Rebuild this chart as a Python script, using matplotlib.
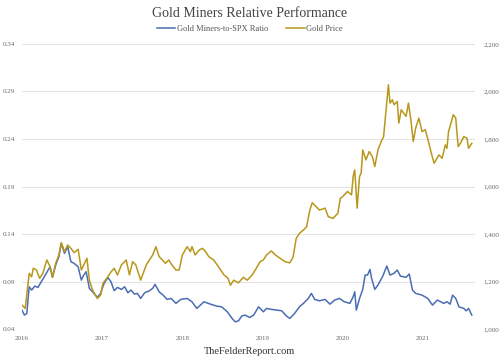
import matplotlib
matplotlib.use("Agg")
import matplotlib.pyplot as plt

# decimal years / values
gold_t = [2016.00, 2016.04, 2016.09, 2016.12, 2016.14, 2016.18, 2016.22, 2016.26, 2016.31, 2016.35,
          2016.38, 2016.42, 2016.46, 2016.49, 2016.53, 2016.57, 2016.61, 2016.65, 2016.70, 2016.74,
          2016.77, 2016.81, 2016.84, 2016.88, 2016.94, 2016.98, 2017.01, 2017.07, 2017.11, 2017.15,
          2017.19, 2017.24, 2017.30, 2017.34, 2017.38, 2017.42, 2017.48, 2017.55, 2017.59, 2017.63,
          2017.67, 2017.71, 2017.75, 2017.79, 2017.83, 2017.87, 2017.92, 2017.96, 2018.00, 2018.06,
          2018.10, 2018.12, 2018.16, 2018.21, 2018.25, 2018.29, 2018.33, 2018.39, 2018.45, 2018.52,
          2018.57, 2018.60, 2018.64, 2018.70, 2018.76, 2018.81, 2018.87, 2018.91, 2018.97, 2019.01,
          2019.05, 2019.11, 2019.16, 2019.22, 2019.28, 2019.34, 2019.38, 2019.42, 2019.46, 2019.51,
          2019.55, 2019.59, 2019.62, 2019.67, 2019.71, 2019.78, 2019.82, 2019.88, 2019.94, 2019.97,
          2020.00, 2020.06, 2020.11, 2020.13, 2020.15, 2020.18, 2020.21, 2020.23, 2020.25, 2020.29,
          2020.33, 2020.37, 2020.40, 2020.44, 2020.48, 2020.51, 2020.57, 2020.59, 2020.62, 2020.64,
          2020.68, 2020.70, 2020.73, 2020.79, 2020.82, 2020.85, 2020.88, 2020.91, 2020.95, 2020.99,
          2021.03, 2021.07, 2021.10, 2021.14, 2021.20, 2021.24, 2021.28, 2021.30, 2021.32, 2021.38,
          2021.41, 2021.44, 2021.47, 2021.51, 2021.55, 2021.57, 2021.61]
gold = [1101, 1087, 1235, 1220, 1256, 1249, 1214, 1235, 1291, 1263,
        1218, 1277, 1312, 1364, 1326, 1354, 1340, 1322, 1336, 1249,
        1270, 1298, 1206, 1164, 1129, 1143, 1193, 1220, 1241, 1256,
        1228, 1270, 1291, 1228, 1284, 1270, 1206, 1270, 1291, 1312,
        1347, 1305, 1291, 1277, 1291, 1270, 1249, 1249, 1312, 1347,
        1326, 1347, 1312, 1333, 1340, 1326, 1305, 1291, 1263, 1228,
        1214, 1185, 1206, 1195, 1218, 1206, 1228, 1249, 1284, 1291,
        1312, 1329, 1312, 1298, 1284, 1279, 1302, 1382, 1403, 1417,
        1431, 1501, 1532, 1515, 1501, 1509, 1473, 1466, 1488, 1550,
        1558, 1579, 1565, 1642, 1670, 1509, 1642, 1656, 1754, 1712,
        1747, 1726, 1684, 1754, 1789, 1810, 2028, 1951, 1965, 1944,
        1958, 1867, 1923, 1895, 1951, 1881, 1789, 1846, 1888, 1831,
        1839, 1789, 1747, 1698, 1733, 1719, 1775, 1761, 1831, 1902,
        1888, 1768, 1783, 1810, 1803, 1761, 1782]

ratio_t = [2016.00, 2016.03, 2016.06, 2016.09, 2016.12, 2016.16, 2016.20, 2016.24, 2016.29, 2016.35,
           2016.38, 2016.42, 2016.46, 2016.49, 2016.53, 2016.57, 2016.61, 2016.65, 2016.70, 2016.74,
           2016.77, 2016.80, 2016.84, 2016.88, 2016.94, 2016.98, 2017.02, 2017.07, 2017.11, 2017.15,
           2017.19, 2017.24, 2017.28, 2017.32, 2017.36, 2017.40, 2017.44, 2017.48, 2017.53, 2017.59,
           2017.63, 2017.66, 2017.71, 2017.76, 2017.81, 2017.86, 2017.92, 2017.98, 2018.06, 2018.12,
           2018.18, 2018.27, 2018.35, 2018.43, 2018.49, 2018.56, 2018.62, 2018.66, 2018.70, 2018.74,
           2018.78, 2018.84, 2018.89, 2018.95, 2019.01, 2019.05, 2019.11, 2019.18, 2019.24, 2019.30,
           2019.34, 2019.40, 2019.46, 2019.51, 2019.57, 2019.61, 2019.65, 2019.71, 2019.78, 2019.84,
           2019.90, 2019.96, 2020.02, 2020.09, 2020.13, 2020.15, 2020.17, 2020.21, 2020.25, 2020.28,
           2020.31, 2020.34, 2020.36, 2020.40, 2020.44, 2020.50, 2020.55, 2020.59, 2020.64, 2020.68,
           2020.72, 2020.79, 2020.83, 2020.87, 2020.91, 2020.99, 2021.06, 2021.12, 2021.18, 2021.26,
           2021.30, 2021.34, 2021.37, 2021.41, 2021.45, 2021.51, 2021.54, 2021.57, 2021.61]
ratio = [0.0600, 0.0548, 0.0565, 0.0846, 0.0811, 0.0853, 0.0839, 0.0898, 0.0969, 0.1056,
         0.0945, 0.1074, 0.1162, 0.1303, 0.1198, 0.1267, 0.1109, 0.1092, 0.1056, 0.0916,
         0.0969, 0.1004, 0.0829, 0.0793, 0.0734, 0.0776, 0.0874, 0.0945, 0.0898, 0.0804,
         0.0839, 0.0818, 0.0846, 0.0783, 0.0811, 0.0769, 0.0776, 0.0723, 0.0783, 0.0804,
         0.0829, 0.0871, 0.0793, 0.0758, 0.0713, 0.0723, 0.0671, 0.0713, 0.0723, 0.0688,
         0.0618, 0.0688, 0.0663, 0.0642, 0.0635, 0.0583, 0.0513, 0.0477, 0.0487, 0.0537,
         0.0548, 0.0523, 0.0548, 0.0635, 0.0583, 0.0618, 0.0608, 0.0600, 0.0593, 0.0537,
         0.0513, 0.0565, 0.0635, 0.0671, 0.0723, 0.0776, 0.0713, 0.0698, 0.0713, 0.0663,
         0.0706, 0.0723, 0.0688, 0.0671, 0.0740, 0.0793, 0.0600, 0.0723, 0.0818, 0.0969,
         0.0969, 0.1029, 0.0934, 0.0818, 0.0864, 0.0958, 0.1064, 0.0969, 0.0987, 0.1022,
         0.0958, 0.0945, 0.0980, 0.0811, 0.0776, 0.0758, 0.0723, 0.0653, 0.0706, 0.0671,
         0.0688, 0.0663, 0.0758, 0.0723, 0.0635, 0.0618, 0.0593, 0.0618, 0.0548]

years = [2016, 2017, 2018, 2019, 2020, 2021]
left_ticks = [0.04, 0.09, 0.14, 0.19, 0.24, 0.29, 0.34]
right_ticks = [1000, 1200, 1400, 1600, 1800, 2000, 2200]

BLUE = "#4b6db2"
GOLD = "#b8971c"
serif = "Liberation Serif"

fig = plt.figure(figsize=(5, 3.57), dpi=100)
ax = fig.add_axes([0.044, 0.078, 0.906, 0.799])
ax2 = ax.twinx()

l1, = ax.plot(ratio_t, ratio, color=BLUE, lw=1.1, label="Gold Miners-to-SPX Ratio")
l2, = ax2.plot(gold_t, gold, color=GOLD, lw=1.1, label="Gold Price")

ax.set_xlim(2016, 2021.65)
ax.set_ylim(0.04, 0.34)
ax2.set_ylim(1000, 2200)
ax.set_yticks(left_ticks)
ax.set_yticklabels([f"{v:.2f}" for v in left_ticks])
ax2.set_yticks(right_ticks)
ax2.set_yticklabels([f"{v:,}" for v in right_ticks])
ax.set_xticks(years)
ax.set_xticklabels([str(y) for y in years])

ax.grid(axis="y", color="#e4e4e4", lw=0.8)
ax.set_axisbelow(True)
for a in (ax, ax2):
    for s in a.spines.values():
        s.set_visible(False)
    a.tick_params(length=0, labelsize=5, labelcolor="#666666")
    for lab in a.get_xticklabels() + a.get_yticklabels():
        lab.set_family(serif)
ax.tick_params(axis="y", pad=5)
ax.tick_params(axis="x", pad=5)
ax2.tick_params(axis="y", pad=6)
ax.set_zorder(ax2.get_zorder() - 1)
ax2.patch.set_visible(False)

fig.text(0.5, 0.963, "Gold Miners Relative Performance", ha="center", va="center",
         fontsize=10, color="#444444", family=serif)
fig.legend(handles=[l1, l2], loc="center", bbox_to_anchor=(0.5, 0.918), ncol=2, frameon=False,
           prop={"family": serif, "size": 6}, labelcolor="#555555", handlelength=2.2,
           handletextpad=0.2, columnspacing=2.2)
fig.text(0.5, 0.015, "TheFelderReport.com", ha="center", va="center",
         fontsize=7.5, color="#333333", family=serif)

fig.savefig("out.png", dpi=100)
